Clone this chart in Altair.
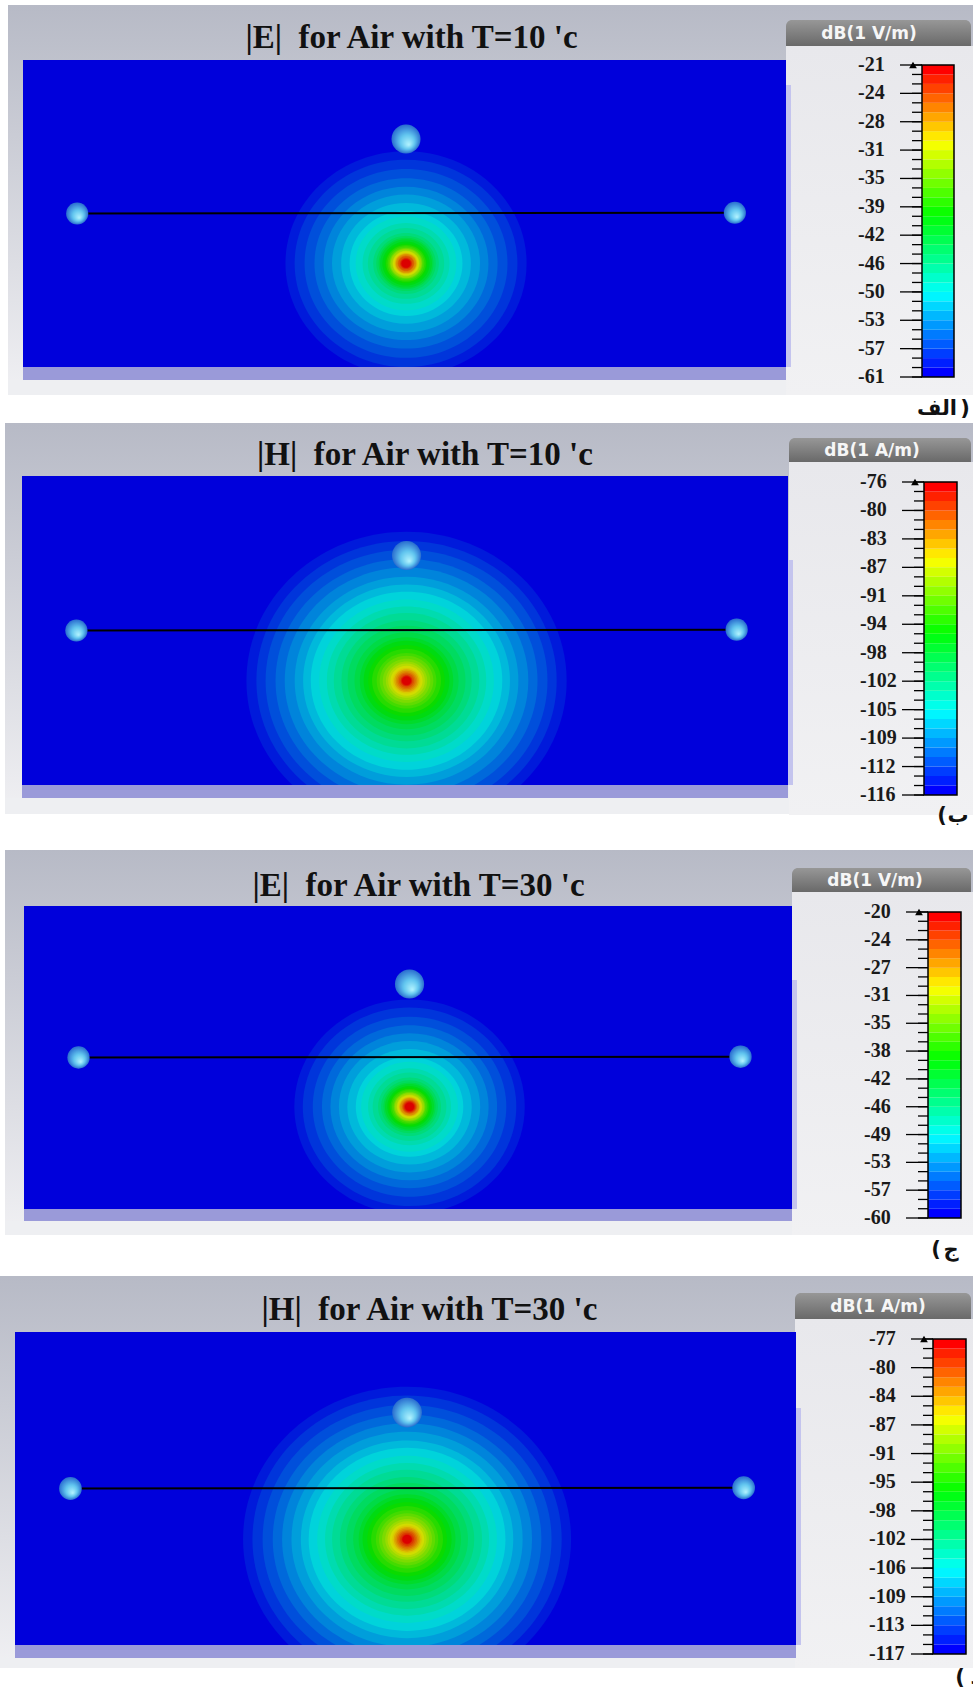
import altair as alt
import pandas as pd

# ------------------------------------------------------------------ data
TITLES = ["|E|\u00a0 for Air with T=10 'c", "|H|\u00a0 for Air with T=10 'c",
          "|E|\u00a0 for Air with T=30 'c", "|H|\u00a0 for Air with T=30 'c"]
UNITS = ["dB(1 V/m)", "dB(1 A/m)", "dB(1 V/m)", "dB(1 A/m)"]
TAG_LETTERS = ["الف", "ب", "ج", "د"]
TAG_PARENS = [")", "(", "(", "("]

TICKS = [
    [-21, -24, -28, -31, -35, -39, -42, -46, -50, -53, -57, -61],
    [-76, -80, -83, -87, -91, -94, -98, -102, -105, -109, -112, -116],
    [-20, -24, -27, -31, -35, -38, -42, -46, -49, -53, -57, -60],
    [-77, -80, -84, -87, -91, -95, -98, -102, -106, -109, -113, -117],
]
N_BANDS = 33

# radius (cm, horizontal semi-axis) of each contour band 1..32, outermost first
RINGS = [
    [15.8, 14.6, 13.3, 12.0, 10.8, 9.7, 8.5, 7.4, 6.6, 5.7, 5.0, 4.3, 3.9, 3.6, 3.4, 3.1,
     2.8, 2.6, 2.4, 2.2, 2.1, 2.0, 1.8, 1.7, 1.5, 1.4, 1.3, 1.1, 1.0, 0.8, 0.7, 0.6],
    [20.9, 19.6, 18.4, 17.1, 15.9, 14.6, 13.5, 12.5, 11.4, 10.4, 9.5, 8.5, 7.7, 6.8, 6.1, 5.6,
     5.0, 4.5, 3.9, 3.5, 3.1, 2.7, 2.4, 2.1, 1.8, 1.6, 1.4, 1.2, 1.0, 0.8, 0.7, 0.6],
    [15.0, 13.9, 12.6, 11.4, 10.3, 9.2, 8.1, 7.0, 6.3, 5.4, 4.8, 4.1, 3.7, 3.4, 3.2, 2.9,
     2.7, 2.5, 2.3, 2.1, 2.0, 1.9, 1.7, 1.6, 1.4, 1.3, 1.2, 1.0, 0.9, 0.8, 0.7, 0.6],
    [21.0, 19.8, 18.5, 17.2, 16.0, 14.8, 13.6, 12.6, 11.5, 10.5, 9.6, 8.6, 7.8, 6.9, 6.2, 5.7,
     5.1, 4.6, 4.0, 3.6, 3.2, 2.8, 2.5, 2.2, 1.9, 1.7, 1.5, 1.3, 1.1, 0.9, 0.7, 0.6],
]
SOURCE_X = [0.2]
SOURCE_Y = [-6.5]
SPHERE_X = [0.2, -42.9, 43.3]
SPHERE_Y = [9.7, 0.0, 0.1]
SPHERE_R = [1.9, 1.45, 1.45]
DOMAIN_X = [-50, 50]
DOMAIN_Y = [-20, 20]

# ------------------------------------------------------------------ styles / layout (pixels)
LAYOUT = [
    dict(box=(8, 5, 395), blue=(23, 786, 60, 367), lav=380, cbx=786, hdr=(20, 46), body_bottom=395,
         bar=(922, 954, 65, 377), title=(411.5, 48), strip_top=85,
         tag=(965, 937, 415), next_top=423),
    dict(box=(5, 423, 814), blue=(22, 788, 476, 785), lav=798, cbx=789, hdr=(438, 462), body_bottom=815,
         bar=(924, 957, 482, 795), title=(425, 465), strip_top=560,
         tag=(942, 958, 822), next_top=850),
    dict(box=(5, 850, 1235), blue=(24, 792, 906, 1209), lav=1221, cbx=792, hdr=(868, 892), body_bottom=1235,
         bar=(928, 961, 912, 1218), title=(418.5, 896), strip_top=980,
         tag=(936, 951, 1256), next_top=1276),
    dict(box=(0, 1276, 1668), blue=(15, 796, 1332, 1645), lav=1658, cbx=795, hdr=(1293, 1319), body_bottom=1668,
         bar=(933, 966, 1339, 1654), title=(429.5, 1320), strip_top=1408,
         tag=(960, 976, 1684), next_top=1691),
]

CTRL = [(0.0, (0, 0, 255)), (0.26, (0, 255, 255)), (0.52, (0, 255, 0)),
        (0.76, (255, 255, 0)), (1.0, (255, 0, 0))]


def cmap(t, f=1.0):
    for (t0, c0), (t1, c1) in zip(CTRL[:-1], CTRL[1:]):
        if t <= t1:
            u = (t - t0) / (t1 - t0)
            c = [round((a + (b - a) * u) * f) for a, b in zip(c0, c1)]
            return "#%02x%02x%02x" % tuple(c)
    return "#%02x%02x%02x" % tuple(round(v * f) for v in CTRL[-1][1])


BRIGHT = [cmap(k / (N_BANDS - 1)) for k in range(N_BANDS)]
DARK = [cmap(k / (N_BANDS - 1), 0.86) for k in range(N_BANDS)]

ELLIPSE = "M-1,0A1,0.93,0,1,1,1,0A1,0.93,0,1,1,-1,0Z"


def lin_grad(c0, c1):
    return {"gradient": "linear", "x1": 0, "x2": 0, "y1": 0, "y2": 1,
            "stops": [{"offset": 0, "color": c0}, {"offset": 1, "color": c1}]}


SPHERE_FILL = {"gradient": "radial", "x1": 0.6, "y1": 0.7, "r1": 0, "x2": 0.5, "y2": 0.5, "r2": 0.5,
               "stops": [{"offset": 0, "color": "#b4f4ff"}, {"offset": 0.5, "color": "#62c6ef"},
                         {"offset": 1, "color": "#2a6ccf"}]}

ONE = pd.DataFrame({"k": [0]})


def box(x0, x1, y0, y1, **mk):
    return alt.Chart(ONE).mark_rect(**mk).encode(
        x=alt.value(x0), x2=alt.value(x1), y=alt.value(y0), y2=alt.value(y1))


def build_panel(i):
    L = LAYOUT[i]
    px0, py0, py1 = L["box"]
    bx0, bx1, by0, by1 = L["blue"]
    cbx = L["cbx"]
    cx0, cx1, cy0, cy1 = L["bar"]
    hi, lo = TICKS[i][0], TICKS[i][-1]
    step = (hi - lo) / N_BANDS
    thr = [lo + j * step for j in range(1, N_BANDS)]

    xs = alt.Scale(domain=DOMAIN_X, range=[bx0, bx1], nice=False, zero=False)
    ys = alt.Scale(domain=DOMAIN_Y, range=[by1, by0], nice=False, zero=False)
    kpx = (bx1 - bx0) / (DOMAIN_X[1] - DOMAIN_X[0])
    rmax = 25
    ss = alt.Scale(type="pow", exponent=2, domain=[0, rmax], range=[0, (2 * rmax * kpx) ** 2], nice=False)
    dark_scale = alt.Scale(type="threshold", domain=thr, range=DARK)
    bright_scale = alt.Scale(type="threshold", domain=thr, range=BRIGHT)

    # ---- field
    dom_df = pd.DataFrame({"x0": [DOMAIN_X[0]], "x1": [DOMAIN_X[1]], "y0": [DOMAIN_Y[0]],
                           "y1": [DOMAIN_Y[1]], "level": [lo + 0.5 * step]})
    dom = alt.Chart(dom_df).mark_rect().encode(
        x=alt.X("x0:Q", scale=xs, axis=None), x2="x1:Q",
        y=alt.Y("y0:Q", scale=ys, axis=None), y2="y1:Q",
        color=alt.Color("level:Q", scale=dark_scale, legend=None))

    bands = list(range(1, N_BANDS))
    ring_df = pd.DataFrame({"band": bands, "r": RINGS[i],
                            "level": [lo + (b + 0.5) * step for b in bands],
                            "x": SOURCE_X * len(bands), "y": SOURCE_Y * len(bands)})
    rings = alt.Chart(ring_df).mark_point(shape=ELLIPSE, filled=True, opacity=1, strokeWidth=0).encode(
        x=alt.X("x:Q", scale=xs, axis=None), y=alt.Y("y:Q", scale=ys, axis=None),
        size=alt.Size("r:Q", scale=ss, legend=None),
        color=alt.Color("level:Q", scale=dark_scale, legend=None),
        order=alt.Order("band:Q"))

    line_df = pd.DataFrame({"x": SPHERE_X[1:], "y": SPHERE_Y[1:]})
    line = alt.Chart(line_df).mark_line(color="black", strokeWidth=2).encode(
        x=alt.X("x:Q", scale=xs, axis=None), y=alt.Y("y:Q", scale=ys, axis=None))

    sph_df = pd.DataFrame({"x": SPHERE_X, "y": SPHERE_Y, "r": SPHERE_R})
    spheres = alt.Chart(sph_df).mark_point(shape="circle", filled=True, fill=SPHERE_FILL,
                                           opacity=1, strokeWidth=0).encode(
        x=alt.X("x:Q", scale=xs, axis=None), y=alt.Y("y:Q", scale=ys, axis=None),
        size=alt.Size("r:Q", scale=ss, legend=None))

    field = alt.layer(dom, rings, line, spheres)

    # ---- colorbar
    cys = alt.Scale(domain=[lo, hi], range=[cy1, cy0], nice=False, zero=False)
    cb_df = pd.DataFrame({"b0": [lo + k * step for k in range(N_BANDS)],
                          "b1": [lo + (k + 1) * step for k in range(N_BANDS)],
                          "level": [lo + (k + 0.5) * step for k in range(N_BANDS)]})
    cb_rects = alt.Chart(cb_df).mark_rect().encode(
        x=alt.value(cx0), x2=alt.value(cx1),
        y=alt.Y("b0:Q", scale=cys, axis=None), y2="b1:Q",
        color=alt.Color("level:Q", scale=bright_scale, legend=None))
    outline = alt.Chart(pd.DataFrame({"a": [lo], "b": [hi]})).mark_rect(
        fillOpacity=0, stroke="black", strokeWidth=1.5).encode(
        x=alt.value(cx0), x2=alt.value(cx1), y=alt.Y("a:Q", scale=cys, axis=None), y2="b:Q")
    minor_df = pd.DataFrame({"p": [lo + k * step for k in range(N_BANDS + 1)]})
    minor = alt.Chart(minor_df).mark_rule(color="black", strokeWidth=1.3).encode(
        x=alt.value(cx0 - 10), x2=alt.value(cx0), y=alt.Y("p:Q", scale=cys, axis=None))
    nmaj = len(TICKS[i])
    maj_df = pd.DataFrame({"p": [hi - m * (hi - lo) / (nmaj - 1) for m in range(nmaj)],
                           "lab": [str(v) for v in TICKS[i]]})
    major = alt.Chart(maj_df).mark_rule(color="black", strokeWidth=1.3).encode(
        x=alt.value(cx0 - 22), x2=alt.value(cx0), y=alt.Y("p:Q", scale=cys, axis=None))
    labels = alt.Chart(maj_df).mark_text(align="left", baseline="middle", font="Liberation Serif",
                                         fontWeight="bold", fontSize=20, color="#1a1a1a").encode(
        x=alt.value(cx0 - 64), y=alt.Y("p:Q", scale=cys, axis=None), text="lab:N")
    pointer = alt.Chart(pd.DataFrame({"p": [hi]})).mark_point(
        shape="triangle-up", filled=True, color="black", opacity=1, size=60).encode(
        x=alt.value(cx0 - 9), y=alt.Y("p:Q", scale=cys, axis=None))
    cbar = alt.layer(cb_rects, minor, major, outline, labels, pointer)

    # ---- chrome
    bg = box(px0, 973, py0, py1, fill=lin_grad("#b7bac6", "#f0f0f3"))
    body = box(cbx, 973, L["hdr"][1], L["body_bottom"], fill=lin_grad("#e8e8ec", "#f1f1f3"))
    header = box(cbx, 971, L["hdr"][0], L["hdr"][1], fill=lin_grad("#979797", "#696969"),
                 cornerRadiusTopLeft=6, cornerRadiusTopRight=6)
    hdr_text = alt.Chart(pd.DataFrame({"t": [UNITS[i]]})).mark_text(
        font="DejaVu Sans", fontWeight="bold", fontSize=17, color="#f6f6f6",
        align="center", baseline="middle").encode(
        text="t:N", x=alt.value(cbx + 83), y=alt.value((L["hdr"][0] + L["hdr"][1]) / 2 + 1))
    title = alt.Chart(pd.DataFrame({"t": [TITLES[i]]})).mark_text(
        font="Liberation Serif", fontWeight="bold", fontSize=33, color="#111111",
        align="center", baseline="alphabetic").encode(
        text="t:N", x=alt.value(L["title"][0]), y=alt.value(L["title"][1]))
    strip = box(bx1, bx1 + 5, L["strip_top"], by1, color="#c4c4ee")
    lav = box(bx0, bx1, by1, L["lav"], color="#9a9ad9")
    cover1 = box(px0, cbx, L["lav"], py1, color="#eeeff2")
    cover2 = box(0, cbx, py1, L["next_top"], color="#ffffff")
    paren_x, letter_x, ty = L["tag"]
    tag_style = dict(font="DejaVu Sans", fontWeight="bold", fontSize=21, color="#111111",
                     align="center", baseline="alphabetic")
    tag_letter = alt.Chart(pd.DataFrame({"t": [TAG_LETTERS[i]]})).mark_text(**tag_style).encode(
        text="t:N", x=alt.value(letter_x), y=alt.value(ty))
    tag_paren = alt.Chart(pd.DataFrame({"t": [TAG_PARENS[i]]})).mark_text(**tag_style).encode(
        text="t:N", x=alt.value(paren_x), y=alt.value(ty))

    return alt.layer(bg, body, header, hdr_text, title, field, strip, lav, cover1, cover2,
                     cbar, tag_letter, tag_paren).resolve_scale(
        x="independent", y="independent", color="independent", size="independent")


panels = [build_panel(i) for i in range(4)]
chart = alt.layer(*panels).resolve_scale(
    x="independent", y="independent", color="independent", size="independent"
).properties(
    width=973, height=1691, autosize=alt.AutoSizeParams(type="none"), padding=0,
    background="#ffffff"
).configure_view(stroke=None)

chart.save("out.html", embed_options={"renderer": "svg", "actions": False})
